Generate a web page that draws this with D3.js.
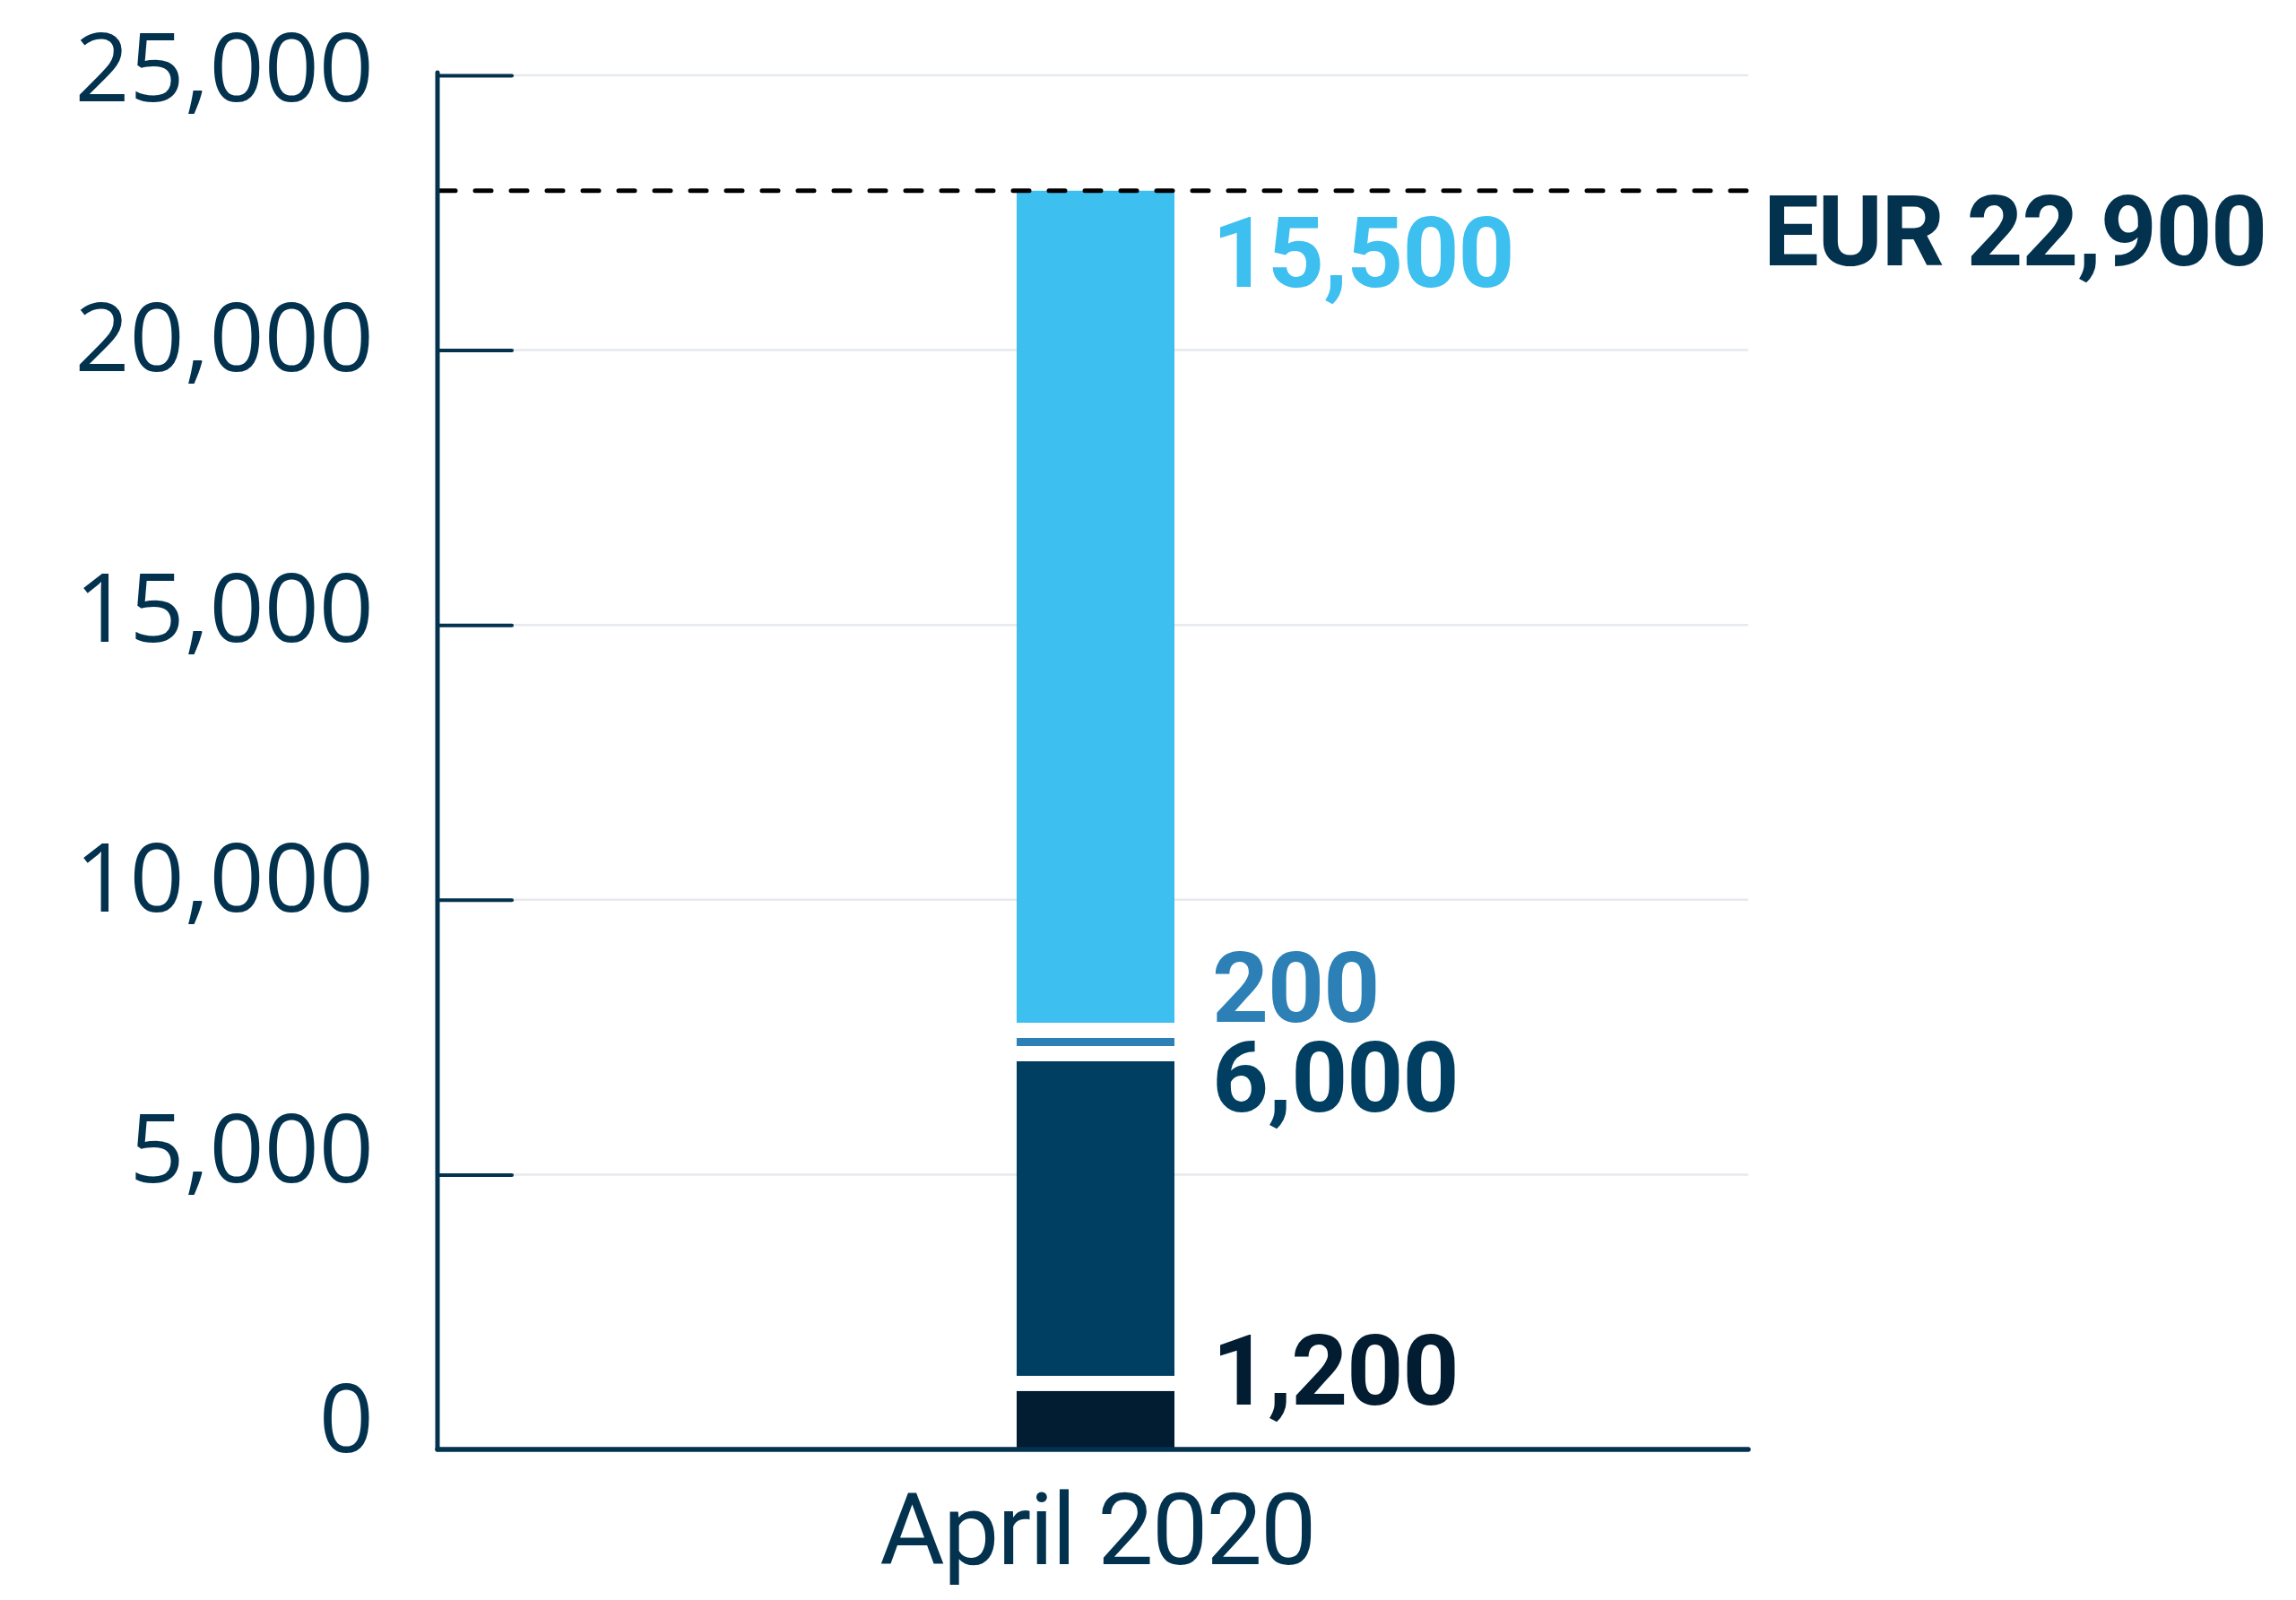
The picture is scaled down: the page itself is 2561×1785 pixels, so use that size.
<!DOCTYPE html>
<html>
<head>
<meta charset="utf-8">
<script src="https://cdn.jsdelivr.net/npm/d3@7"></script>
<style>
  html, body { margin: 0; padding: 0; background: #ffffff; }
  svg { display: block; }
</style>
</head>
<body>
<svg id="chart" width="2561" height="1785"></svg>
<script>
// ---- Data ----
const categories = ["April 2020"];
const segmentKeys = ["seg1", "seg2", "seg3", "seg4"];
const segmentValues = [1200, 6000, 200, 15500];
const segmentColors = ["#021c31", "#013f62", "#2d80b5", "#3dbfef"];
const totalPrefix = "EUR ";
const yTickValues = [0, 5000, 10000, 15000, 20000, 25000];
const yMax = 25000;

// ---- Layout ----
const plot = { left: 488, right: 1950, top: 84, bottom: 1617 };
const barWidth = 176;
const segGap = 17;          // white gap between stacked segments
const minSegHeight = 9;     // thin segments stay visible
const ink = "#03324f";
const fmt = d3.format(",");

const svg = d3.select("#chart");

const y = d3.scaleLinear().domain([0, yMax]).range([plot.bottom, plot.top]);
// tick labels sit on their own slightly wider scale
const yLabel = d3.scaleLinear().domain([0, yMax]).range([1620, 113]);
const x = d3.scalePoint().domain(categories).range([plot.left, plot.right]).padding(0.5);

// ---- Gridlines ----
svg.append("g")
  .selectAll("line")
  .data(yTickValues.filter(d => d > 0))
  .join("line")
  .attr("x1", plot.left).attr("x2", plot.right)
  .attr("y1", d => y(d)).attr("y2", d => y(d))
  .attr("stroke", "#e6e9ed")
  .attr("stroke-width", 2.5);

// ---- Stacked bar ----
const row = { category: categories[0] };
segmentKeys.forEach((k, i) => row[k] = segmentValues[i]);
const stacked = d3.stack().keys(segmentKeys)([row]);
const total = d3.sum(segmentValues);

// build segments bottom-up, keeping a fixed white gap between neighbours
const segs = [];
stacked.forEach((s, i) => {
  const v1 = s[0][1];
  const last = i === stacked.length - 1;
  const yb = i === 0 ? y(0) : segs[i - 1].yt - segGap;
  let yt = last ? y(v1) : y(v1) + segGap / 2;
  if (yt > yb - minSegHeight) yt = yb - minSegHeight;
  segs.push({ key: s.key, value: segmentValues[i], top: y(v1), yt, yb, color: segmentColors[i] });
});

const cx = x(categories[0]) + 3;
svg.append("g")
  .selectAll("rect")
  .data(segs)
  .join("rect")
  .attr("x", cx - barWidth / 2)
  .attr("width", barWidth)
  .attr("y", d => d.yt)
  .attr("height", d => d.yb - d.yt)
  .attr("fill", d => d.color);

// ---- Total reference line ----
svg.append("line")
  .attr("x1", plot.left + 2).attr("x2", plot.right)
  .attr("y1", y(total)).attr("y2", y(total))
  .attr("stroke", "#000")
  .attr("stroke-width", 5)
  .attr("stroke-linecap", "round")
  .attr("stroke-dasharray", "18 22");

svg.append("text")
  .attr("x", 1967)
  .attr("y", y(total) + 83)
  .attr("font-family", "Roboto, sans-serif")
  .attr("font-weight", 700)
  .attr("font-size", 110)
  .attr("letter-spacing", -1.4)
  .attr("fill", ink)
  .text(totalPrefix + fmt(total));

// ---- Segment value labels ----
const labelDy = [24, 65, -23, 107];
svg.append("g")
  .selectAll("text")
  .data(segs)
  .join("text")
  .attr("x", cx + barWidth / 2 + 42)
  .attr("y", (d, i) => d.top + labelDy[i])
  .attr("font-family", "Roboto, sans-serif")
  .attr("font-weight", 700)
  .attr("font-size", 110)
  .attr("letter-spacing", -1)
  .attr("fill", d => d.color)
  .text(d => fmt(d.value));

// ---- Y axis: tick marks ----
const yAxis = d3.axisRight(y)
  .tickValues(yTickValues.filter(d => d > 0))
  .tickSize(83)
  .tickFormat("");
const gy = svg.append("g").attr("transform", `translate(${plot.left},0)`).call(yAxis);
gy.select(".domain").remove();
gy.selectAll(".tick line")
  .attr("stroke", ink)
  .attr("stroke-width", 4)
  .attr("stroke-linecap", "round");

// axis lines
svg.append("line")
  .attr("x1", plot.left).attr("x2", plot.left)
  .attr("y1", 81).attr("y2", plot.bottom)
  .attr("stroke", ink).attr("stroke-width", 5).attr("stroke-linecap", "round");
svg.append("line")
  .attr("x1", plot.left).attr("x2", plot.right)
  .attr("y1", plot.bottom).attr("y2", plot.bottom)
  .attr("stroke", ink).attr("stroke-width", 5.5).attr("stroke-linecap", "round");

// ---- Y tick labels ----
svg.append("g")
  .selectAll("text")
  .data(yTickValues)
  .join("text")
  .attr("x", 417)
  .attr("y", d => yLabel(d))
  .attr("text-anchor", "end")
  .attr("font-family", "'Open Sans', sans-serif")
  .attr("font-size", 107)
  .attr("fill", ink)
  .text(d => fmt(d));

// ---- Category label ----
svg.append("g")
  .selectAll("text")
  .data(categories)
  .join("text")
  .attr("x", d => x(d) + 5)
  .attr("y", 1745)
  .attr("text-anchor", "middle")
  .attr("font-family", "Roboto, sans-serif")
  .attr("font-size", 111)
  .attr("letter-spacing", -1.8)
  .attr("fill", ink)
  .text(d => d);
</script>
</body>
</html>
